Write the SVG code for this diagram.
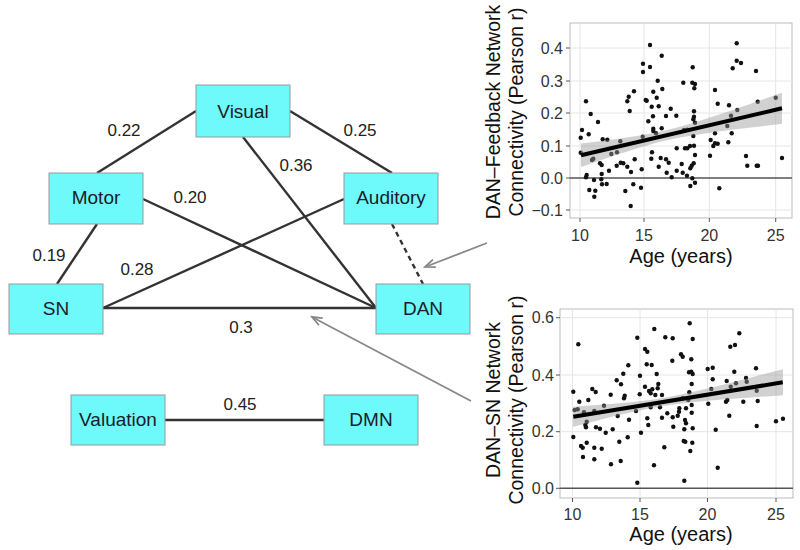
<svg xmlns="http://www.w3.org/2000/svg" width="800" height="550" viewBox="0 0 800 550">
<style>
.node rect{fill:#6ef9fb;stroke:#999;stroke-width:1}
.node text{font-family:"Liberation Sans",Arial,sans-serif;font-size:19px;fill:#1c1c2a;text-anchor:middle}
.edge{stroke:#333;stroke-width:2.4;fill:none}
.dash{stroke-dasharray:5,4}
.elab{font-family:"Liberation Sans",Arial,sans-serif;font-size:17px;fill:#222;text-anchor:middle}
.arrow{stroke:#888;stroke-width:1.8;fill:none}
.panel{fill:#fff;stroke:#bbb;stroke-width:1}
.grid{stroke:#e6e6e6;stroke-width:1}
.zero{stroke:#555;stroke-width:1.6}
.tick{stroke:#555;stroke-width:1}
.ytl{font-family:"Liberation Sans",Arial,sans-serif;font-size:16px;fill:#333;text-anchor:end}
.xtl{font-family:"Liberation Sans",Arial,sans-serif;font-size:16px;fill:#333;text-anchor:middle}
.ttl{font-family:"Liberation Sans",Arial,sans-serif;font-size:19.5px;fill:#111;text-anchor:middle}
.pt{fill:#111}
.band{fill:#999;fill-opacity:0.45}
.fit{stroke:#000;stroke-width:4;fill:none}
</style>
<defs>
<marker id="vhead" markerUnits="userSpaceOnUse" markerWidth="14" markerHeight="12" refX="10" refY="4" orient="auto" overflow="visible">
<path d="M0,0 L10,4 L0,8" fill="none" stroke="#888" stroke-width="1.8"/>
</marker>
</defs>
<rect width="800" height="550" fill="#fff"/>

<g id="connectors">
<line class="edge" x1="196" y1="111" x2="97" y2="173"/>
<line class="edge" x1="290" y1="111" x2="392" y2="173"/>
<line class="edge" x1="243" y1="137" x2="376" y2="308"/>
<line class="edge" x1="143" y1="199" x2="376" y2="308"/>
<line class="edge" x1="344" y1="199" x2="103" y2="308"/>
<line class="edge" x1="97" y1="224" x2="57" y2="284"/>
<line class="edge" x1="103" y1="308" x2="376" y2="308"/>
<line class="edge dash" x1="392" y1="224" x2="423" y2="284"/>
<line class="edge" x1="165" y1="420" x2="324" y2="420"/>
<line class="arrow" x1="487" y1="243" x2="425" y2="267" marker-end="url(#vhead)"/>
<line class="arrow" x1="471" y1="401" x2="312" y2="317" marker-end="url(#vhead)"/>
<text class="elab" x="124" y="136">0.22</text>
<text class="elab" x="360" y="136">0.25</text>
<text class="elab" x="296" y="171">0.36</text>
<text class="elab" x="190" y="203">0.20</text>
<text class="elab" x="49" y="261">0.19</text>
<text class="elab" x="137" y="275">0.28</text>
<text class="elab" x="241" y="333">0.3</text>
<text class="elab" x="240" y="410">0.45</text>
</g>

<g id="visual" class="node"><rect x="196" y="85" width="94" height="52"/><text x="243" y="118">Visual</text></g>
<g id="motor" class="node"><rect x="49" y="173" width="94" height="51"/><text x="96" y="204">Motor</text></g>
<g id="auditory" class="node"><rect x="344" y="173" width="94" height="51"/><text x="391" y="204">Auditory</text></g>
<g id="sn" class="node"><rect x="9" y="284" width="94" height="50"/><text x="56" y="315">SN</text></g>
<g id="dan" class="node"><rect x="376" y="284" width="94" height="50"/><text x="423" y="315">DAN</text></g>
<g id="valuation" class="node"><rect x="71" y="395" width="94" height="50"/><text x="118" y="426">Valuation</text></g>
<g id="dmn" class="node"><rect x="324" y="395" width="94" height="50"/><text x="371" y="426">DMN</text></g>

<g id="plot-feedback">
<rect class="panel" x="570" y="23" width="222" height="195"/>
<line class="grid" x1="570" y1="48" x2="792" y2="48"/>
<line class="grid" x1="570" y1="81" x2="792" y2="81"/>
<line class="grid" x1="570" y1="113" x2="792" y2="113"/>
<line class="grid" x1="570" y1="146" x2="792" y2="146"/>
<line class="grid" x1="570" y1="210" x2="792" y2="210"/>
<line class="grid" x1="580" y1="23" x2="580" y2="218"/>
<line class="grid" x1="644" y1="23" x2="644" y2="218"/>
<line class="grid" x1="709.3" y1="23" x2="709.3" y2="218"/>
<line class="grid" x1="775.7" y1="23" x2="775.7" y2="218"/>
<line class="zero" x1="570" y1="178" x2="792" y2="178"/>
<g>
<circle class="pt" cx="650" cy="45" r="2.2"/><circle class="pt" cx="643" cy="63.7" r="2.2"/><circle class="pt" cx="650" cy="67" r="2.2"/><circle class="pt" cx="643" cy="72" r="2.2"/><circle class="pt" cx="661.7" cy="55.7" r="2.2"/><circle class="pt" cx="657.7" cy="80.7" r="2.2"/><circle class="pt" cx="653.3" cy="91.7" r="2.2"/><circle class="pt" cx="662.3" cy="89" r="2.2"/><circle class="pt" cx="645.7" cy="100" r="2.2"/><circle class="pt" cx="646.7" cy="100.7" r="2.2"/><circle class="pt" cx="656.7" cy="97.7" r="2.2"/><circle class="pt" cx="651.7" cy="106.7" r="2.2"/><circle class="pt" cx="658.7" cy="106.3" r="2.2"/><circle class="pt" cx="653" cy="116.3" r="2.2"/><circle class="pt" cx="666" cy="116" r="2.2"/><circle class="pt" cx="670.7" cy="108.7" r="2.2"/><circle class="pt" cx="676.3" cy="115.7" r="2.2"/><circle class="pt" cx="648.3" cy="121.3" r="2.2"/><circle class="pt" cx="653.3" cy="128.7" r="2.2"/><circle class="pt" cx="653.3" cy="131" r="2.2"/><circle class="pt" cx="661.7" cy="128.3" r="2.2"/><circle class="pt" cx="656" cy="133.3" r="2.2"/><circle class="pt" cx="642.7" cy="136.7" r="2.2"/><circle class="pt" cx="582" cy="130" r="2.2"/><circle class="pt" cx="580.7" cy="137.7" r="2.2"/><circle class="pt" cx="588.7" cy="134.3" r="2.2"/><circle class="pt" cx="586" cy="101.3" r="2.2"/><circle class="pt" cx="590.7" cy="114" r="2.2"/><circle class="pt" cx="598" cy="122" r="2.2"/><circle class="pt" cx="602.7" cy="139.3" r="2.2"/><circle class="pt" cx="607.3" cy="139.7" r="2.2"/><circle class="pt" cx="620.3" cy="141.3" r="2.2"/><circle class="pt" cx="627.3" cy="101.3" r="2.2"/><circle class="pt" cx="628.7" cy="96.7" r="2.2"/><circle class="pt" cx="634" cy="91.3" r="2.2"/><circle class="pt" cx="629.7" cy="111" r="2.2"/><circle class="pt" cx="676.7" cy="148.3" r="2.2"/><circle class="pt" cx="652" cy="152.3" r="2.2"/><circle class="pt" cx="651.3" cy="158.7" r="2.2"/><circle class="pt" cx="660.7" cy="158" r="2.2"/><circle class="pt" cx="666" cy="159.3" r="2.2"/><circle class="pt" cx="668.7" cy="162.7" r="2.2"/><circle class="pt" cx="658.7" cy="166.7" r="2.2"/><circle class="pt" cx="666.7" cy="172.7" r="2.2"/><circle class="pt" cx="671.7" cy="177.3" r="2.2"/><circle class="pt" cx="676.7" cy="170.7" r="2.2"/><circle class="pt" cx="580.7" cy="152.7" r="2.2"/><circle class="pt" cx="592" cy="160" r="2.2"/><circle class="pt" cx="593.3" cy="158.7" r="2.2"/><circle class="pt" cx="611.3" cy="154" r="2.2"/><circle class="pt" cx="617" cy="152.3" r="2.2"/><circle class="pt" cx="600" cy="163.3" r="2.2"/><circle class="pt" cx="601.7" cy="165" r="2.2"/><circle class="pt" cx="616.7" cy="165.7" r="2.2"/><circle class="pt" cx="620.7" cy="162.7" r="2.2"/><circle class="pt" cx="623.3" cy="163.3" r="2.2"/><circle class="pt" cx="627.3" cy="166.7" r="2.2"/><circle class="pt" cx="609" cy="170.7" r="2.2"/><circle class="pt" cx="634.7" cy="159.3" r="2.2"/><circle class="pt" cx="631" cy="172" r="2.2"/><circle class="pt" cx="641.7" cy="169.3" r="2.2"/><circle class="pt" cx="601.7" cy="174" r="2.2"/><circle class="pt" cx="586.7" cy="175" r="2.2"/><circle class="pt" cx="586" cy="177.3" r="2.2"/><circle class="pt" cx="594" cy="180" r="2.2"/><circle class="pt" cx="601.3" cy="179.3" r="2.2"/><circle class="pt" cx="602" cy="184.3" r="2.2"/><circle class="pt" cx="606.7" cy="184" r="2.2"/><circle class="pt" cx="589.3" cy="190" r="2.2"/><circle class="pt" cx="595.3" cy="190.7" r="2.2"/><circle class="pt" cx="594.3" cy="196.7" r="2.2"/><circle class="pt" cx="633.3" cy="184.3" r="2.2"/><circle class="pt" cx="641" cy="187.7" r="2.2"/><circle class="pt" cx="625.3" cy="191" r="2.2"/><circle class="pt" cx="630.7" cy="206" r="2.2"/>
<circle class="pt" cx="736.7" cy="43.3" r="2.2"/><circle class="pt" cx="736.7" cy="60.7" r="2.2"/><circle class="pt" cx="741" cy="63" r="2.2"/><circle class="pt" cx="732.7" cy="68.3" r="2.2"/><circle class="pt" cx="756" cy="71" r="2.2"/><circle class="pt" cx="692.7" cy="67.3" r="2.2"/><circle class="pt" cx="683.3" cy="82.7" r="2.2"/><circle class="pt" cx="692.3" cy="82.7" r="2.2"/><circle class="pt" cx="695" cy="84" r="2.2"/><circle class="pt" cx="694.3" cy="88.3" r="2.2"/><circle class="pt" cx="715" cy="90" r="2.2"/><circle class="pt" cx="717.7" cy="103.7" r="2.2"/><circle class="pt" cx="729" cy="105.3" r="2.2"/><circle class="pt" cx="757.7" cy="101.7" r="2.2"/><circle class="pt" cx="775.7" cy="97.7" r="2.2"/><circle class="pt" cx="737.3" cy="110" r="2.2"/><circle class="pt" cx="731" cy="115.7" r="2.2"/><circle class="pt" cx="694" cy="111.3" r="2.2"/><circle class="pt" cx="694" cy="116.7" r="2.2"/><circle class="pt" cx="695" cy="122.7" r="2.2"/><circle class="pt" cx="693.3" cy="119.3" r="2.2"/><circle class="pt" cx="687.3" cy="129.7" r="2.2"/><circle class="pt" cx="684" cy="130" r="2.2"/><circle class="pt" cx="693.3" cy="136" r="2.2"/><circle class="pt" cx="715" cy="133.3" r="2.2"/><circle class="pt" cx="731.7" cy="133.3" r="2.2"/><circle class="pt" cx="727.3" cy="126" r="2.2"/><circle class="pt" cx="710.7" cy="140" r="2.2"/><circle class="pt" cx="715" cy="143.3" r="2.2"/><circle class="pt" cx="713.3" cy="146" r="2.2"/><circle class="pt" cx="717.7" cy="143.7" r="2.2"/><circle class="pt" cx="728.3" cy="142.3" r="2.2"/><circle class="pt" cx="685" cy="148.3" r="2.2"/><circle class="pt" cx="687.3" cy="148.3" r="2.2"/><circle class="pt" cx="690" cy="146" r="2.2"/><circle class="pt" cx="694" cy="145.7" r="2.2"/><circle class="pt" cx="695" cy="155" r="2.2"/><circle class="pt" cx="710" cy="155.7" r="2.2"/><circle class="pt" cx="746" cy="156" r="2.2"/><circle class="pt" cx="782" cy="158" r="2.2"/><circle class="pt" cx="693.7" cy="163.3" r="2.2"/><circle class="pt" cx="691.7" cy="165.7" r="2.2"/><circle class="pt" cx="690.3" cy="168.3" r="2.2"/><circle class="pt" cx="681.7" cy="164" r="2.2"/><circle class="pt" cx="747.3" cy="165.7" r="2.2"/><circle class="pt" cx="756.7" cy="165.7" r="2.2"/><circle class="pt" cx="758" cy="165.7" r="2.2"/><circle class="pt" cx="682.7" cy="172.7" r="2.2"/><circle class="pt" cx="687" cy="175.7" r="2.2"/><circle class="pt" cx="692.3" cy="178.3" r="2.2"/><circle class="pt" cx="695" cy="182.7" r="2.2"/><circle class="pt" cx="690.3" cy="186" r="2.2"/><circle class="pt" cx="719.3" cy="188.3" r="2.2"/>
</g>
<polygon class="band" points="581,143.6 600,141.27 620,138.62 640,135.6 660,131.79 680,126.8 700,120.81 720,114.26 740,107.44 760,100.48 782,92.75 782,123.87 760,126.42 740,128.82 720,131.34 700,134.15 680,137.5 660,141.87 640,147.42 620,153.74 600,160.45 581,167"/>
<line class="fit" x1="581" y1="155.3" x2="782" y2="108.3"/>
<line class="tick" x1="566" y1="48" x2="570" y2="48"/>
<line class="tick" x1="566" y1="81" x2="570" y2="81"/>
<line class="tick" x1="566" y1="113" x2="570" y2="113"/>
<line class="tick" x1="566" y1="146" x2="570" y2="146"/>
<line class="tick" x1="566" y1="178" x2="570" y2="178"/>
<line class="tick" x1="566" y1="210" x2="570" y2="210"/>
<line class="tick" x1="580" y1="218" x2="580" y2="222"/>
<line class="tick" x1="644" y1="218" x2="644" y2="222"/>
<line class="tick" x1="709.3" y1="218" x2="709.3" y2="222"/>
<line class="tick" x1="775.7" y1="218" x2="775.7" y2="222"/>
<text class="ytl" x="563" y="53.5">0.4</text>
<text class="ytl" x="563" y="86.5">0.3</text>
<text class="ytl" x="563" y="118.5">0.2</text>
<text class="ytl" x="563" y="151.5">0.1</text>
<text class="ytl" x="563" y="183.5">0.0</text>
<text class="ytl" x="563" y="215.5">−0.1</text>
<text class="xtl" x="580" y="241">10</text>
<text class="xtl" x="644" y="241">15</text>
<text class="xtl" x="709.3" y="241">20</text>
<text class="xtl" x="775.7" y="241">25</text>
<text class="ttl" x="681" y="263" style="font-size:20px">Age (years)</text>
<text class="ttl" transform="translate(500,112) rotate(-90)">DAN–Feedback Network</text>
<text class="ttl" transform="translate(523,112) rotate(-90)">Connectivity (Pearson r)</text>
</g>

<g id="plot-sn">
<rect class="panel" x="560" y="309" width="233" height="189"/>
<line class="grid" x1="560" y1="317.7" x2="793" y2="317.7"/>
<line class="grid" x1="560" y1="375" x2="793" y2="375"/>
<line class="grid" x1="560" y1="431.7" x2="793" y2="431.7"/>
<line class="grid" x1="572.5" y1="309" x2="572.5" y2="498"/>
<line class="grid" x1="640" y1="309" x2="640" y2="498"/>
<line class="grid" x1="707.5" y1="309" x2="707.5" y2="498"/>
<line class="grid" x1="776" y1="309" x2="776" y2="498"/>
<line class="zero" x1="560" y1="488.3" x2="793" y2="488.3"/>
<g>
<circle class="pt" cx="654.3" cy="329" r="2.2"/><circle class="pt" cx="637.3" cy="337.7" r="2.2"/><circle class="pt" cx="665.3" cy="337.3" r="2.2"/><circle class="pt" cx="578.3" cy="344.3" r="2.2"/><circle class="pt" cx="645" cy="349" r="2.2"/><circle class="pt" cx="647.3" cy="351.7" r="2.2"/><circle class="pt" cx="646.7" cy="364.3" r="2.2"/><circle class="pt" cx="651.7" cy="365" r="2.2"/><circle class="pt" cx="628.3" cy="365.3" r="2.2"/><circle class="pt" cx="623.3" cy="373.7" r="2.2"/><circle class="pt" cx="640" cy="375.7" r="2.2"/><circle class="pt" cx="656.7" cy="374" r="2.2"/><circle class="pt" cx="616.7" cy="380.3" r="2.2"/><circle class="pt" cx="621" cy="384.3" r="2.2"/><circle class="pt" cx="658.3" cy="384" r="2.2"/><circle class="pt" cx="645" cy="386.7" r="2.2"/><circle class="pt" cx="649" cy="391" r="2.2"/><circle class="pt" cx="652.3" cy="389.3" r="2.2"/><circle class="pt" cx="657.7" cy="388.3" r="2.2"/><circle class="pt" cx="650.7" cy="393.3" r="2.2"/><circle class="pt" cx="573.3" cy="391.7" r="2.2"/><circle class="pt" cx="592.3" cy="389" r="2.2"/><circle class="pt" cx="595.7" cy="392" r="2.2"/><circle class="pt" cx="610.7" cy="394.7" r="2.2"/><circle class="pt" cx="624.7" cy="395.7" r="2.2"/><circle class="pt" cx="624" cy="398.3" r="2.2"/><circle class="pt" cx="639.7" cy="394.3" r="2.2"/><circle class="pt" cx="655.3" cy="395" r="2.2"/><circle class="pt" cx="662" cy="395" r="2.2"/><circle class="pt" cx="579.3" cy="401.7" r="2.2"/><circle class="pt" cx="588.3" cy="400" r="2.2"/><circle class="pt" cx="574.7" cy="410" r="2.2"/><circle class="pt" cx="577.7" cy="409.3" r="2.2"/><circle class="pt" cx="584" cy="412.3" r="2.2"/><circle class="pt" cx="594.3" cy="411" r="2.2"/><circle class="pt" cx="604" cy="405.7" r="2.2"/><circle class="pt" cx="586.7" cy="421.7" r="2.2"/><circle class="pt" cx="585.3" cy="425" r="2.2"/><circle class="pt" cx="586" cy="427.3" r="2.2"/><circle class="pt" cx="596" cy="427.3" r="2.2"/><circle class="pt" cx="600" cy="428.7" r="2.2"/><circle class="pt" cx="605.7" cy="432.7" r="2.2"/><circle class="pt" cx="612.7" cy="429.3" r="2.2"/><circle class="pt" cx="617.7" cy="416" r="2.2"/><circle class="pt" cx="629" cy="419.7" r="2.2"/><circle class="pt" cx="636" cy="411" r="2.2"/><circle class="pt" cx="647.3" cy="418.3" r="2.2"/><circle class="pt" cx="648.3" cy="425" r="2.2"/><circle class="pt" cx="650.7" cy="407.3" r="2.2"/><circle class="pt" cx="662" cy="417.7" r="2.2"/><circle class="pt" cx="660" cy="407.3" r="2.2"/><circle class="pt" cx="667.3" cy="413.3" r="2.2"/><circle class="pt" cx="573.3" cy="437" r="2.2"/><circle class="pt" cx="581" cy="446" r="2.2"/><circle class="pt" cx="582.7" cy="447.7" r="2.2"/><circle class="pt" cx="586.7" cy="442.7" r="2.2"/><circle class="pt" cx="594.3" cy="447.7" r="2.2"/><circle class="pt" cx="601.7" cy="448.7" r="2.2"/><circle class="pt" cx="583" cy="457" r="2.2"/><circle class="pt" cx="594.3" cy="459.3" r="2.2"/><circle class="pt" cx="619.3" cy="441.7" r="2.2"/><circle class="pt" cx="627.7" cy="437.3" r="2.2"/><circle class="pt" cx="641" cy="432.7" r="2.2"/><circle class="pt" cx="664.3" cy="447.3" r="2.2"/><circle class="pt" cx="611" cy="464.3" r="2.2"/><circle class="pt" cx="620.7" cy="461" r="2.2"/><circle class="pt" cx="654" cy="465.3" r="2.2"/><circle class="pt" cx="637.3" cy="482.7" r="2.2"/>
<circle class="pt" cx="689.7" cy="323.3" r="2.2"/><circle class="pt" cx="672.7" cy="338.3" r="2.2"/><circle class="pt" cx="692.7" cy="339" r="2.2"/><circle class="pt" cx="739.3" cy="333.3" r="2.2"/><circle class="pt" cx="730.3" cy="346.7" r="2.2"/><circle class="pt" cx="735" cy="345" r="2.2"/><circle class="pt" cx="681" cy="354.3" r="2.2"/><circle class="pt" cx="682.7" cy="356.7" r="2.2"/><circle class="pt" cx="691.3" cy="359.3" r="2.2"/><circle class="pt" cx="672.3" cy="360.7" r="2.2"/><circle class="pt" cx="707.7" cy="369" r="2.2"/><circle class="pt" cx="712.7" cy="367.7" r="2.2"/><circle class="pt" cx="756" cy="368.3" r="2.2"/><circle class="pt" cx="734.3" cy="371.7" r="2.2"/><circle class="pt" cx="689" cy="372.3" r="2.2"/><circle class="pt" cx="691.3" cy="371.7" r="2.2"/><circle class="pt" cx="692.7" cy="374" r="2.2"/><circle class="pt" cx="712.7" cy="379.3" r="2.2"/><circle class="pt" cx="726.7" cy="381" r="2.2"/><circle class="pt" cx="746" cy="378" r="2.2"/><circle class="pt" cx="746.7" cy="381.7" r="2.2"/><circle class="pt" cx="691.7" cy="384" r="2.2"/><circle class="pt" cx="711.3" cy="389" r="2.2"/><circle class="pt" cx="730.7" cy="386.7" r="2.2"/><circle class="pt" cx="736" cy="383.3" r="2.2"/><circle class="pt" cx="756.7" cy="390.7" r="2.2"/><circle class="pt" cx="689.3" cy="392.3" r="2.2"/><circle class="pt" cx="682.7" cy="398.3" r="2.2"/><circle class="pt" cx="688.3" cy="400" r="2.2"/><circle class="pt" cx="691.7" cy="405" r="2.2"/><circle class="pt" cx="679.3" cy="408.3" r="2.2"/><circle class="pt" cx="686" cy="408.3" r="2.2"/><circle class="pt" cx="708.3" cy="403.7" r="2.2"/><circle class="pt" cx="726" cy="401.7" r="2.2"/><circle class="pt" cx="727.3" cy="400" r="2.2"/><circle class="pt" cx="743.3" cy="401.7" r="2.2"/><circle class="pt" cx="757.7" cy="401" r="2.2"/><circle class="pt" cx="691.7" cy="412.7" r="2.2"/><circle class="pt" cx="672.7" cy="417.3" r="2.2"/><circle class="pt" cx="677.7" cy="415.7" r="2.2"/><circle class="pt" cx="679" cy="411.7" r="2.2"/><circle class="pt" cx="685" cy="420" r="2.2"/><circle class="pt" cx="686" cy="423.3" r="2.2"/><circle class="pt" cx="673.3" cy="426.7" r="2.2"/><circle class="pt" cx="684.3" cy="429.3" r="2.2"/><circle class="pt" cx="692.7" cy="428.3" r="2.2"/><circle class="pt" cx="729.3" cy="415.7" r="2.2"/><circle class="pt" cx="715.7" cy="429.7" r="2.2"/><circle class="pt" cx="756.7" cy="426" r="2.2"/><circle class="pt" cx="776" cy="421.3" r="2.2"/><circle class="pt" cx="783" cy="418.7" r="2.2"/><circle class="pt" cx="683.7" cy="441" r="2.2"/><circle class="pt" cx="685.3" cy="441.7" r="2.2"/><circle class="pt" cx="692.3" cy="442.7" r="2.2"/><circle class="pt" cx="690.3" cy="451" r="2.2"/><circle class="pt" cx="717.7" cy="467.7" r="2.2"/><circle class="pt" cx="684.3" cy="480.7" r="2.2"/>
</g>
<polygon class="band" points="573,406.75 590,405.54 610,403.99 630,402.2 650,399.91 670,396.73 690,392.6 710,387.88 730,382.89 750,377.77 770,372.56 783,369.17 783,395.33 770,396.2 750,397.57 730,399.01 710,400.6 690,402.46 670,404.89 650,408.29 630,412.56 610,417.35 590,422.38 573,426.75"/>
<line class="fit" x1="573.3" y1="416.7" x2="782.7" y2="382.3"/>
<line class="tick" x1="556" y1="317.7" x2="560" y2="317.7"/>
<line class="tick" x1="556" y1="375" x2="560" y2="375"/>
<line class="tick" x1="556" y1="431.7" x2="560" y2="431.7"/>
<line class="tick" x1="556" y1="488.3" x2="560" y2="488.3"/>
<line class="tick" x1="572.5" y1="498" x2="572.5" y2="502"/>
<line class="tick" x1="640" y1="498" x2="640" y2="502"/>
<line class="tick" x1="707.5" y1="498" x2="707.5" y2="502"/>
<line class="tick" x1="776" y1="498" x2="776" y2="502"/>
<text class="ytl" x="554" y="323.2">0.6</text>
<text class="ytl" x="554" y="380.5">0.4</text>
<text class="ytl" x="554" y="437.2">0.2</text>
<text class="ytl" x="554" y="493.8">0.0</text>
<text class="xtl" x="572.5" y="520">10</text>
<text class="xtl" x="640" y="520">15</text>
<text class="xtl" x="707.5" y="520">20</text>
<text class="xtl" x="776" y="520">25</text>
<text class="ttl" x="681" y="541" style="font-size:20px">Age (years)</text>
<text class="ttl" transform="translate(500,400) rotate(-90)">DAN–SN Network</text>
<text class="ttl" transform="translate(523,400) rotate(-90)">Connectivity (Pearson r)</text>
</g>
</svg>
